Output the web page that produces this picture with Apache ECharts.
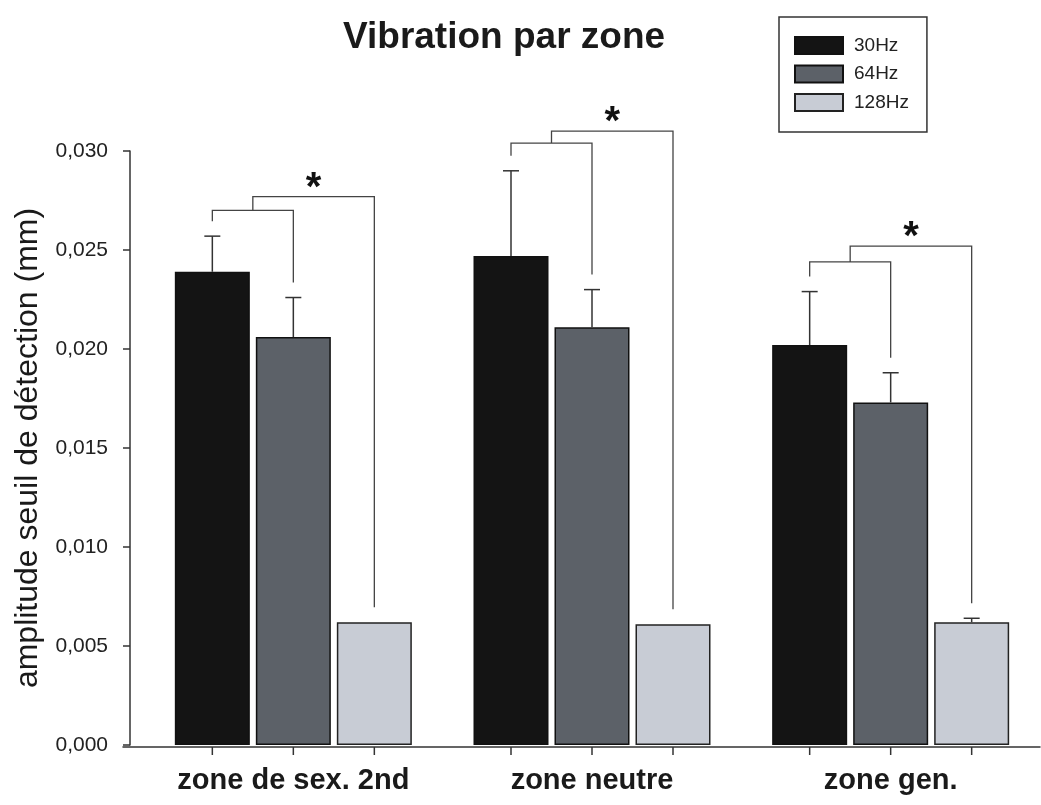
<!DOCTYPE html>
<html>
<head>
<meta charset="utf-8">
<script src="https://cdn.jsdelivr.net/npm/echarts@6/dist/echarts.min.js"></script>
<style>
  html, body { margin: 0; padding: 0; background: #fff; }
  #main { width: 1041px; height: 805px; }
</style>
</head>
<body>
<div id="main"></div>
<script>
const categories = ['zone de sex. 2nd', 'zone neutre', 'zone gen.'];
const seriesNames = ['30Hz', '64Hz', '128Hz'];

// bar heights (mm)
const hz30 = [0.0239, 0.0247, 0.0202];
const hz64 = [0.0206, 0.0211, 0.0173];
const hz128 = [0.0062, 0.0061, 0.0062];

// top of the error bars (mm), null = none drawn
const err30 = [0.0257, 0.0290, 0.0229];
const err64 = [0.0226, 0.0230, 0.0188];
const err128 = [null, null, 0.0064];

// significance brackets: inner (30 vs 64) and outer (vs 128) heights
const bracketInner = [0.0270, 0.0304, 0.0244];
const bracketOuter = [0.0277, 0.0310, 0.0252];

const FONT = 'Liberation Sans';
const BAR_STEP = 81;   // px between bar centres inside a group
const LEG_GAP = 15;    // px between bracket leg and bar/err top

const chart = echarts.init(document.getElementById('main'));

const values = [hz30, hz64, hz128];
const errs = [err30, err64, err128];
const colors = ['#141414', '#5c6168', '#c8ccd5'];

const errData = [];
const tickData = [];
for (let s = 0; s < 3; s++) {
  for (let i = 0; i < categories.length; i++) {
    tickData.push([i, 0, s]);
    if (errs[s][i] != null) errData.push([i, values[s][i], errs[s][i], s]);
  }
}
const bracketData = categories.map(function (c, i) {
  return [i, bracketInner[i], bracketOuter[i], err30[i], err64[i],
    err128[i] != null ? err128[i] : hz128[i]];
});

const lineStyle = { stroke: '#333', lineWidth: 1.5 };

const option = {
  animation: false,
  backgroundColor: '#fff',
  title: {
    text: 'Vibration par zone',
    left: 338,
    top: 14,
    textStyle: { fontFamily: FONT, fontSize: 37, fontWeight: 'bold', color: '#1a1a1a' }
  },
  legend: {
    orient: 'vertical',
    left: 779,
    top: 17,
    padding: [19, 18, 20, 15],
    borderColor: '#333',
    borderWidth: 1.5,
    itemWidth: 48,
    itemHeight: 17,
    itemGap: 9.5,
    icon: 'rect',
    data: seriesNames,
    textStyle: { fontFamily: FONT, fontSize: 19, color: '#222', padding: [0, 0, 0, 6] }
  },
  grid: [
    { left: 144, right: 1, top: 151, bottom: 60 },
    { left: 123, right: 1, top: 151, bottom: 58 }
  ],
  xAxis: [
    {
      type: 'category',
      gridIndex: 0,
      data: categories,
      axisLine: { show: false },
      axisTick: { show: false },
      axisLabel: { interval: 0, hideOverlap: false, margin: 21, fontFamily: FONT, fontSize: 29, fontWeight: 'bold', color: '#1a1a1a' }
    },
    {
      type: 'value',
      gridIndex: 1,
      min: 0,
      max: 1,
      axisLine: { show: true, lineStyle: { color: '#333', width: 1.5 } },
      axisTick: { show: false },
      axisLabel: { show: false },
      splitLine: { show: false }
    }
  ],
  yAxis: [
    {
      type: 'value',
      gridIndex: 0,
      min: 0,
      max: 0.030,
      interval: 0.005,
      offset: 14,
      name: 'amplitude seuil de détection (mm)',
      nameLocation: 'middle',
      nameGap: 80,
      nameTextStyle: { fontFamily: FONT, fontSize: 32, color: '#1a1a1a' },
      axisLine: { show: true, lineStyle: { color: '#333', width: 1.5 } },
      axisTick: { show: true, inside: false, length: 7, lineStyle: { color: '#333', width: 1.5 } },
      axisLabel: {
        margin: 22,
        fontFamily: FONT,
        fontSize: 21,
        color: '#222',
        formatter: function (v) { return v.toFixed(3).replace('.', ','); }
      },
      splitLine: { show: false }
    },
    { type: 'value', gridIndex: 1, show: false, min: 0, max: 1 }
  ],
  series: [
    {
      name: '30Hz', type: 'bar', data: hz30, barWidth: 75, barGap: '8%',
      itemStyle: { color: colors[0], borderColor: '#111', borderWidth: 1.5 }
    },
    {
      name: '64Hz', type: 'bar', data: hz64, barWidth: 75, barGap: '8%',
      itemStyle: { color: colors[1], borderColor: '#111', borderWidth: 1.5 }
    },
    {
      name: '128Hz', type: 'bar', data: hz128, barWidth: 75, barGap: '8%',
      itemStyle: { color: colors[2], borderColor: '#222', borderWidth: 1.5 }
    },
    {
      // error bars (upper only)
      type: 'custom',
      clip: false,
      z: 5,
      data: errData,
      renderItem: function (params, api) {
        const i = api.value(0);
        const base = api.coord([i, api.value(1)]);
        const top = api.coord([i, api.value(2)]);
        const x = base[0] + (api.value(3) - 1) * BAR_STEP;
        return {
          type: 'group',
          children: [
            { type: 'line', shape: { x1: x, y1: base[1], x2: x, y2: top[1] }, style: lineStyle },
            { type: 'line', shape: { x1: x - 8, y1: top[1], x2: x + 8, y2: top[1] }, style: lineStyle }
          ]
        };
      }
    },
    {
      // x ticks under each bar
      type: 'custom',
      clip: false,
      data: tickData,
      renderItem: function (params, api) {
        const p = api.coord([api.value(0), 0]);
        const x = p[0] + (api.value(2) - 1) * BAR_STEP;
        return { type: 'line', shape: { x1: x, y1: p[1] + 2, x2: x, y2: p[1] + 10 }, style: lineStyle };
      }
    },
    {
      // significance brackets with star
      type: 'custom',
      clip: false,
      z: 5,
      data: bracketData,
      renderItem: function (params, api) {
        const i = api.value(0);
        const c = api.coord([i, 0])[0];
        const x0 = c - BAR_STEP, x1 = c, x2 = c + BAR_STEP;
        const yIn = api.coord([i, api.value(1)])[1];
        const yOut = api.coord([i, api.value(2)])[1];
        const b0 = api.coord([i, api.value(3)])[1] - LEG_GAP;
        const b1 = api.coord([i, api.value(4)])[1] - LEG_GAP;
        const b2 = api.coord([i, api.value(5)])[1] - LEG_GAP;
        const mid = (x0 + x1) / 2;
        const bStyle = { stroke: '#444', lineWidth: 1.3, fill: null };
        return {
          type: 'group',
          children: [
            { type: 'polyline', shape: { points: [[x0, b0], [x0, yIn], [x1, yIn], [x1, b1]] }, style: bStyle },
            { type: 'polyline', shape: { points: [[mid, yIn], [mid, yOut], [x2, yOut], [x2, b2]] }, style: bStyle },
            {
              type: 'text',
              style: {
                x: (mid + x2) / 2, y: yOut - 8, text: '*',
                align: 'center', verticalAlign: 'middle',
                fontFamily: FONT, fontSize: 40, fontWeight: 'bold', fill: '#111'
              }
            }
          ]
        };
      }
    }
  ]
};

chart.setOption(option);
</script>
</body>
</html>
